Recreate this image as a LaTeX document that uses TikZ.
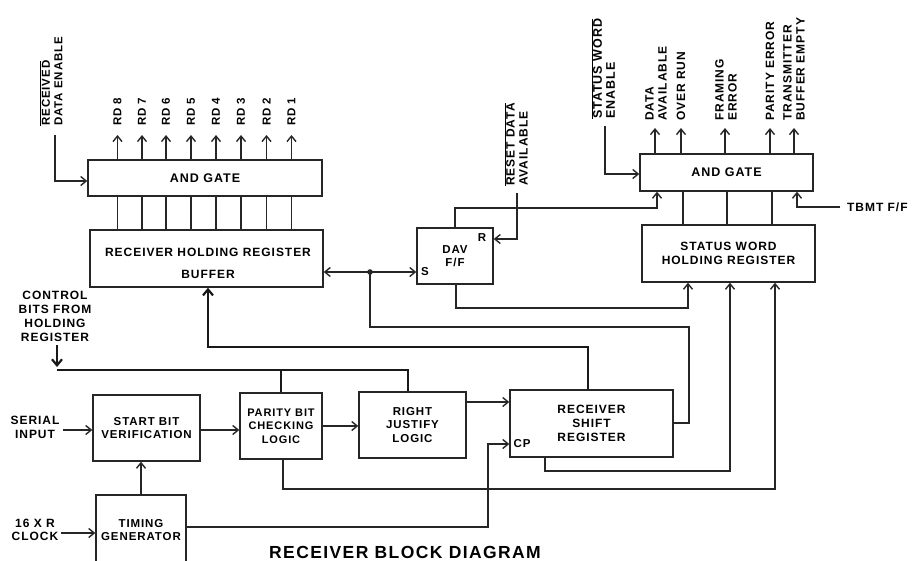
\documentclass[tikz,border=0pt]{standalone}
\usepackage{fontspec}
\setmainfont{Liberation Sans}[LetterSpace=8]
\usetikzlibrary{arrows.meta}
\newcommand{\ovl}[1]{$\overline{\hbox{#1}}$}
\newcommand{\fs}[2]{\fontsize{#1}{#2}\selectfont\bfseries}
\begin{document}
\begin{tikzpicture}[x=1pt,y=-1pt,
 ln/.style={line width=1.4pt, draw=black!85},
 arr/.style={ln, -{Straight Barb[length=5.5pt,width=9pt,line width=1.4pt]}},
 dbl/.style={ln, {Straight Barb[length=5.5pt,width=9pt,line width=1.4pt]}-{Straight Barb[length=5.5pt,width=9pt,line width=1.4pt]}},
 bus/.style={line width=2.6pt, draw=black!90},
 busarr/.style={bus, -{Straight Barb[length=6pt,width=10pt,line width=2.2pt]}},
 blk/.style={draw=black!85, line width=1.4pt, inner sep=0pt, align=center, font=\fs{11}{13.5}},
 lbl/.style={inner sep=0pt, align=center, font=\fs{12}{13.5}},
 rot/.style={rotate=90, anchor=west, inner sep=0pt, align=left, font=\fs{12}{13}},
]
\useasboundingbox (0,0) rectangle (918,560);
\clip (0,0) rectangle (918,560);

% ---- blocks
\node[blk, minimum width=234pt, minimum height=36pt, font=\fs{12.5}{14}] (and1) at (205,178) {AND GATE};
\node[blk, minimum width=233pt, minimum height=57pt] (rhr) at (206.5,258.5) {};
\node[lbl, font=\fs{12}{22}] (rhrt) at (208,263) {RECEIVER HOLDING REGISTER\\BUFFER};
\node[blk, minimum width=76pt, minimum height=56pt, font=\fs{11.5}{12.5}] (dav) at (455,256) {DAV\\F/F};
\node[lbl, font=\fs{11.5}{12}] (davr) at (482,238) {R};
\node[lbl, font=\fs{11.5}{12}] (davs) at (425,272) {S};
\node[blk, minimum width=173pt, minimum height=37pt, font=\fs{12.5}{14}] (and2) at (726.5,172.5) {AND GATE};
\node[blk, minimum width=173pt, minimum height=57pt, font=\fs{12}{14}] (swr) at (728.5,253.5) {STATUS WORD\\HOLDING REGISTER};
\node[blk, minimum width=107pt, minimum height=66pt, font=\fs{11.5}{13}] (sbv) at (146.5,428) {START BIT\\VERIFICATION};
\node[blk, minimum width=82pt, minimum height=66pt, font=\fs{11}{13.5}] (pbc) at (281,426) {PARITY BIT\\CHECKING\\LOGIC};
\node[blk, minimum width=107pt, minimum height=66pt, font=\fs{11.5}{13.5}] (rjl) at (412.5,425) {RIGHT\\JUSTIFY\\LOGIC};
\node[blk, minimum width=163pt, minimum height=67pt, font=\fs{12}{14}] (rsr) at (591.5,423.5) {RECEIVER\\SHIFT\\REGISTER};
\node[lbl, font=\fs{11.5}{12}] (cp) at (522,444) {CP};
\node[blk, minimum width=90pt, minimum height=80pt] (tg) at (141,535) {};
\node[lbl, font=\fs{11.5}{12.5}] (tgt) at (141,530) {TIMING\\GENERATOR};

% ---- free labels
\node[lbl] (si) at (35,427.5) {SERIAL\\INPUT};
\node[lbl] (clk) at (35,530) {16 X R\\CLOCK};
\node[lbl, font=\fs{12}{14}] (cb) at (55,316) {CONTROL\\BITS FROM\\HOLDING\\REGISTER};
\node[lbl, anchor=west] (tbmt) at (847,207) {TBMT F/F};
\node[lbl, font=\fs{17.5}{20}] (title) at (405,552) {RECEIVER BLOCK DIAGRAM};

\node[rot, font=\fs{11.5}{12.5}] (rde) at (51,126) {\ovl{RECEIVED}\\DATA ENABLE};
\node[rot] (rda) at (516,186) {\ovl{RESET DATA}\\AVAILABLE};
\node[rot, font=\fs{12.5}{13}] (swe) at (603,119) {\ovl{STATUS WORD}\\ENABLE};
\node[rot] (o1) at (656,121) {DATA\\AVAILABLE};
\node[rot] (o2) at (681,121) {OVER RUN};
\node[rot] (o3) at (726,121) {FRAMING\\ERROR};
\node[rot] (o4) at (770,121) {PARITY ERROR};
\node[rot] (o5) at (794,121) {TRANSMITTER\\BUFFER EMPTY};

% ---- data bus between AND gate and holding register
\foreach \x/\n in {117.5/8,142/7,166/6,191/5,216/4,241/3,266.5/2,291.5/1} {
  \node[rot, font=\fs{11.5}{12}] (rd\n) at (\x,126) {RD \n};
  \draw[arr, shorten >=9pt] (\x,0 |- and1.north) -- (rd\n.west -| \x,0);
  \draw[ln] (\x,0 |- rhr.north) -- (\x,0 |- and1.south);
}
\draw[arr, shorten <=9pt] (rde.west -| 55,0) |- (and1.west |- 0,181);

% ---- status outputs
\draw[arr, shorten >=7pt] (655,0 |- and2.north) -- (o1.west -| 655,0);
\draw[arr, shorten >=7pt] (681,0 |- and2.north) -- (o2.west -| 681,0);
\draw[arr, shorten >=7pt] (725,0 |- and2.north) -- (o3.west -| 725,0);
\draw[arr, shorten >=7pt] (770,0 |- and2.north) -- (o4.west -| 770,0);
\draw[arr, shorten >=7pt] (794,0 |- and2.north) -- (o5.west -| 794,0);
\draw[arr, shorten <=7pt] (swe.west -| 605,0) -- (605,174) -- (and2.west |- 0,174);
\foreach \x in {683,727,772} { \draw[ln] (\x,0 |- swr.north) -- (\x,0 |- and2.south); }
\draw[arr, shorten <=7pt] (tbmt.west) -- (797,207) -- (797,0 |- and2.south);

% ---- DAV flip-flop
\coordinate (j1) at (370,272);
\draw[dbl] (rhr.east |- j1) -- (dav.west |- j1);
\fill[black!85] (j1) circle[radius=2.8pt];
\draw[ln] (j1) -- (370,327) -- (689,327) -- (689,423) -- (rsr.east |- 0,423);
\draw[arr] (455,0 |- dav.north) -- (455,208) -- (657,208) -- (657,0 |- and2.south);
\draw[arr, shorten <=7pt] (rda.west -| 517,0) -- (517,239) -- (dav.east |- 0,239);
\draw[arr] (456,0 |- dav.south) -- (456,308) -- (688,308) -- (688,0 |- swr.south);

% ---- to status word holding register
\draw[arr] (545,0 |- rsr.south) -- (545,471) -- (730,471) -- (730,0 |- swr.south);
\draw[arr] (283,0 |- pbc.south) -- (283,489) -- (775,489) -- (775,0 |- swr.south);

% ---- thick control buses
\coordinate (busl) at (57,370);
\draw[busarr, shorten <=4pt] (cb.south -| busl) -- (57,367);
\draw[bus] (busl) -- (408,370) -- (408,0 |- rjl.north);
\draw[bus] (281,370) -- (pbc.north);
\draw[busarr] (588,0 |- rsr.north) -- (588,347) -- (208,347) -- (208,0 |- rhr.south);

% ---- serial path
\draw[arr] (si.east |- 0,430) ++(3,0) -- (sbv.west |- 0,430);
\draw[arr] (clk.east |- 0,533) ++(3,0) -- (tg.west |- 0,533);
\draw[arr] (141,0 |- tg.north) -- (141,0 |- sbv.south);
\draw[arr] (sbv.east |- 0,430) -- (pbc.west |- 0,430);
\draw[arr] (pbc.east |- 0,426) -- (rjl.west |- 0,426);
\draw[arr] (rjl.east |- 0,402) -- (rsr.west |- 0,402);
\draw[arr] (tg.east |- 0,527) -- (488,527) -- (488,444) -- (rsr.west |- 0,444);
\end{tikzpicture}
\end{document}
